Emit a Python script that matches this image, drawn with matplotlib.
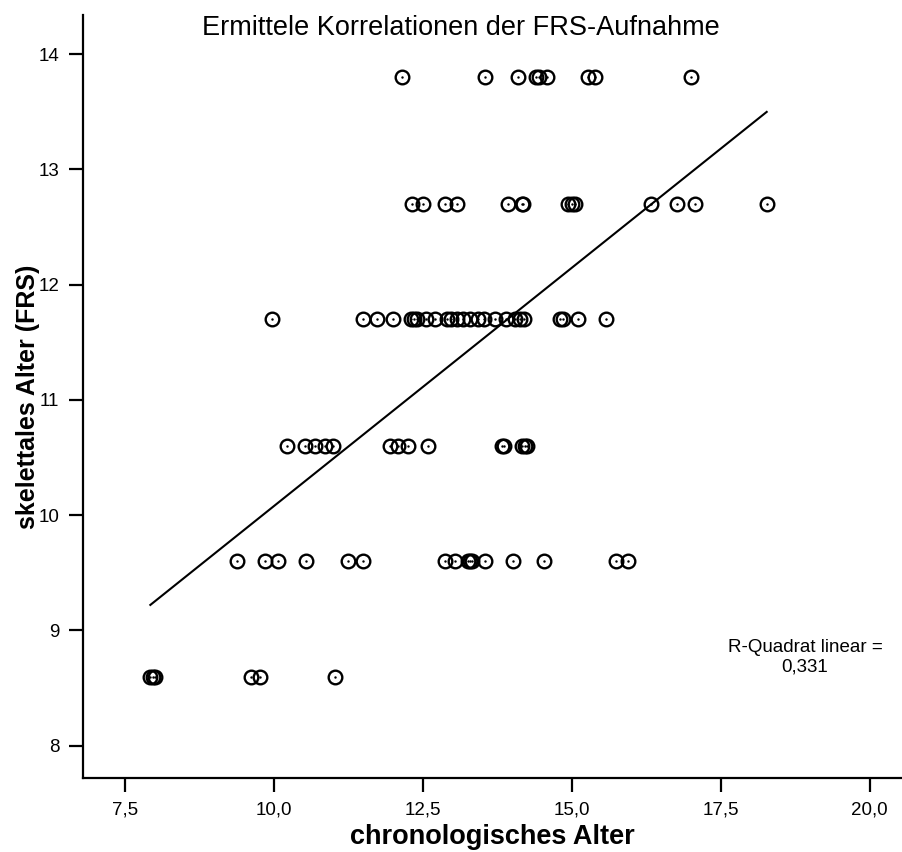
import numpy as np
import matplotlib
matplotlib.use("Agg")
from matplotlib import pyplot as plt
from matplotlib.ticker import FuncFormatter

plt.rcParams['font.family'] = ['Liberation Sans', 'DejaVu Sans']

#############################################################
# Data
#############################################################
row_138 = [12.15, 13.54, 14.09, 14.40, 14.45, 14.58, 15.27, 15.39, 17.0]
row_127 = [12.32, 12.50, 12.87, 13.07, 13.93, 14.16, 14.19, 14.93, 15.0,
           15.05, 16.33, 16.76, 17.06, 18.27]
row_117 = [9.97, 11.49, 11.73, 12.0, 12.30, 12.35, 12.40, 12.55, 12.70,
           12.90, 12.97, 13.07, 13.17, 13.30, 13.42, 13.52, 13.72, 13.90,
           14.05, 14.13, 14.20, 14.80, 14.85, 15.10, 15.57]
row_106 = [10.22, 10.52, 10.69, 10.86, 10.99, 11.95, 12.08, 12.25, 12.58,
           13.83, 13.86, 14.17, 14.22, 14.25]
row_96 = [9.38, 9.85, 10.07, 10.54, 11.24, 11.49, 12.87, 13.04, 13.26,
          13.30, 13.33, 13.54, 14.01, 14.53, 15.75, 15.94]
row_86 = [7.93, 7.97, 8.0, 9.62, 9.77, 11.02]

rows = {13.8: row_138, 12.7: row_127, 11.7: row_117,
        10.6: row_106, 9.6: row_96, 8.6: row_86}

chrono = np.concatenate([np.array(v) for v in rows.values()])
skelet = np.concatenate([np.full(len(v), k) for k, v in rows.items()])

# fit line as shown in the chart (R^2 = 0.331)
fit_slope = 0.4137
fit_intercept = 5.941

r2_text = "R-Quadrat linear =\n0,331"
x_ticks = [7.5, 10.0, 12.5, 15.0, 17.5, 20.0]
y_ticks = [8, 9, 10, 11, 12, 13, 14]

#############################################################
# Plot
#############################################################
fig = plt.figure(figsize=(9.02, 8.52), dpi=100)
ax = fig.add_axes([83/902, 1-778/852, 1-83/902, (778-15)/852])

ax.plot(chrono, skelet, 'o', mfc='none', mec='black', mew=1.7, ms=9.8, ls='none')
ax.plot(chrono, skelet, '.', color='black', ms=1.5, ls='none')

# linear fit, drawn over the data range
xf = np.array([chrono.min(), chrono.max()])
ax.plot(xf, fit_slope*xf + fit_intercept, color='black', lw=1.5)

ax.set_xlim(6.80, 20.54)
ax.set_ylim(7.72, 14.34)
ax.set_xticks(x_ticks)
ax.set_yticks(y_ticks)
ax.xaxis.set_major_formatter(FuncFormatter(lambda v, p: ("%.1f" % v).replace('.', ',')))

for s in ['top', 'right']:
    ax.spines[s].set_visible(False)
for s in ['left', 'bottom']:
    ax.spines[s].set_linewidth(1.6)
ax.tick_params(direction='out', length=10, width=1.6, labelsize=13.5, pad=7)

ax.set_xlabel("chronologisches Alter", fontsize=19.5, fontweight='bold', labelpad=4)
ax.set_ylabel("skelettales Alter (FRS)", fontsize=18, fontweight='bold')
ax.yaxis.set_label_coords(-0.052, 0.5)

fig.text(461/902, 1-28/852, "Ermittele Korrelationen der FRS-Aufnahme",
         ha='center', va='center', fontsize=19.5)
fig.text(805/902, 1-657/852, r2_text, ha='center', va='center',
         fontsize=13.5, multialignment='center')

fig.savefig("out.png", dpi=100)
